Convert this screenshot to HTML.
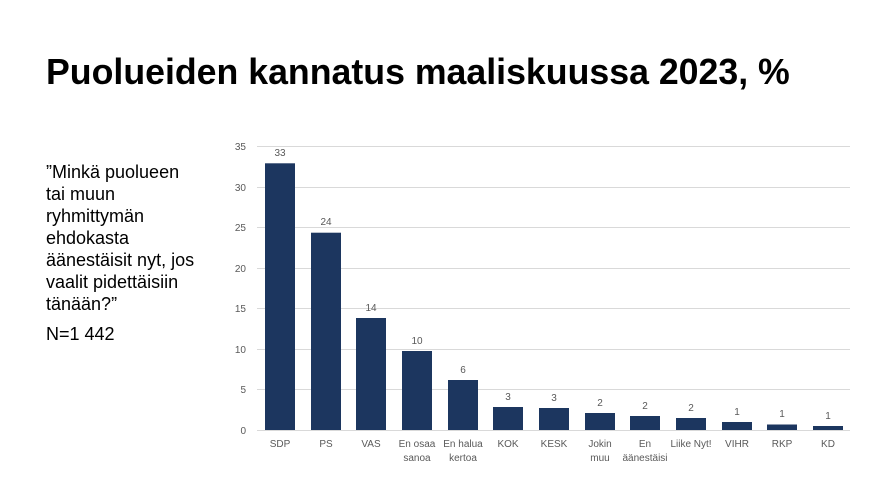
<!DOCTYPE html>
<html><head><meta charset="utf-8"><style>
body{margin:0;width:870px;height:489px;background:#fff;font-family:"Liberation Sans",sans-serif;overflow:hidden;position:relative}
.t{position:absolute;left:46px;top:52px;font-size:35.7px;font-weight:bold;color:#000;white-space:nowrap}
.q{position:absolute;left:46px;top:161px;font-size:18px;line-height:22px;color:#000;white-space:nowrap}
</style></head><body>
<div class="t">Puolueiden kannatus maaliskuussa 2023, %</div>
<div class="q">”Minkä puolueen<br>tai muun<br>ryhmittymän<br>ehdokasta<br>äänestäisit nyt, jos<br>vaalit pidettäisiin<br>tänään?”<div style="margin-top:8px">N=1 442</div></div>
<svg width="870" height="489" style="position:absolute;left:0;top:0" font-family="Liberation Sans, sans-serif" font-size="10" fill="#595959">
<g stroke="#d9d9d9" stroke-width="1">
<line x1="257" x2="850" y1="146.5" y2="146.5"/><line x1="257" x2="850" y1="187.5" y2="187.5"/>
<line x1="257" x2="850" y1="227.5" y2="227.5"/><line x1="257" x2="850" y1="268.5" y2="268.5"/>
<line x1="257" x2="850" y1="308.5" y2="308.5"/><line x1="257" x2="850" y1="349.5" y2="349.5"/>
<line x1="257" x2="850" y1="389.5" y2="389.5"/><line x1="257" x2="850" y1="430.5" y2="430.5"/>
</g>
<g text-anchor="end">
<text x="246" y="150">35</text><text x="246" y="191">30</text><text x="246" y="231">25</text><text x="246" y="272">20</text>
<text x="246" y="312">15</text><text x="246" y="353">10</text><text x="246" y="393">5</text><text x="246" y="434">0</text>
</g>
<g fill="#1c365f">
<rect x="265" y="163.3" width="30" height="266.7"/>
<rect x="311" y="232.7" width="30" height="197.3"/>
<rect x="356" y="318" width="30" height="112"/>
<rect x="402" y="351" width="30" height="79"/>
<rect x="448" y="380" width="30" height="50"/>
<rect x="493" y="407" width="30" height="23"/>
<rect x="539" y="408" width="30" height="22"/>
<rect x="585" y="413" width="30" height="17"/>
<rect x="630" y="416" width="30" height="14"/>
<rect x="676" y="418" width="30" height="12"/>
<rect x="722" y="422" width="30" height="8"/>
<rect x="767" y="424.5" width="30" height="5.5"/>
<rect x="813" y="426" width="30" height="4"/>
</g>
<g text-anchor="middle">
<text x="280" y="156">33</text><text x="326" y="225">24</text><text x="371" y="311">14</text><text x="417" y="344">10</text>
<text x="463" y="373">6</text><text x="508" y="400">3</text><text x="554" y="401">3</text><text x="600" y="406">2</text>
<text x="645" y="409">2</text><text x="691" y="411">2</text><text x="737" y="415">1</text><text x="782" y="417">1</text><text x="828" y="419">1</text>
<text x="280" y="447">SDP</text><text x="326" y="447">PS</text><text x="371" y="447">VAS</text>
<text x="417" y="447">En osaa</text><text x="417" y="461">sanoa</text>
<text x="463" y="447">En halua</text><text x="463" y="461">kertoa</text>
<text x="508" y="447">KOK</text><text x="554" y="447">KESK</text>
<text x="600" y="447">Jokin</text><text x="600" y="461">muu</text>
<text x="645" y="447">En</text><text x="645" y="461">äänestäisi</text>
<text x="691" y="447">Liike Nyt!</text><text x="737" y="447">VIHR</text><text x="782" y="447">RKP</text><text x="828" y="447">KD</text>
</g>
</svg>
</body></html>
